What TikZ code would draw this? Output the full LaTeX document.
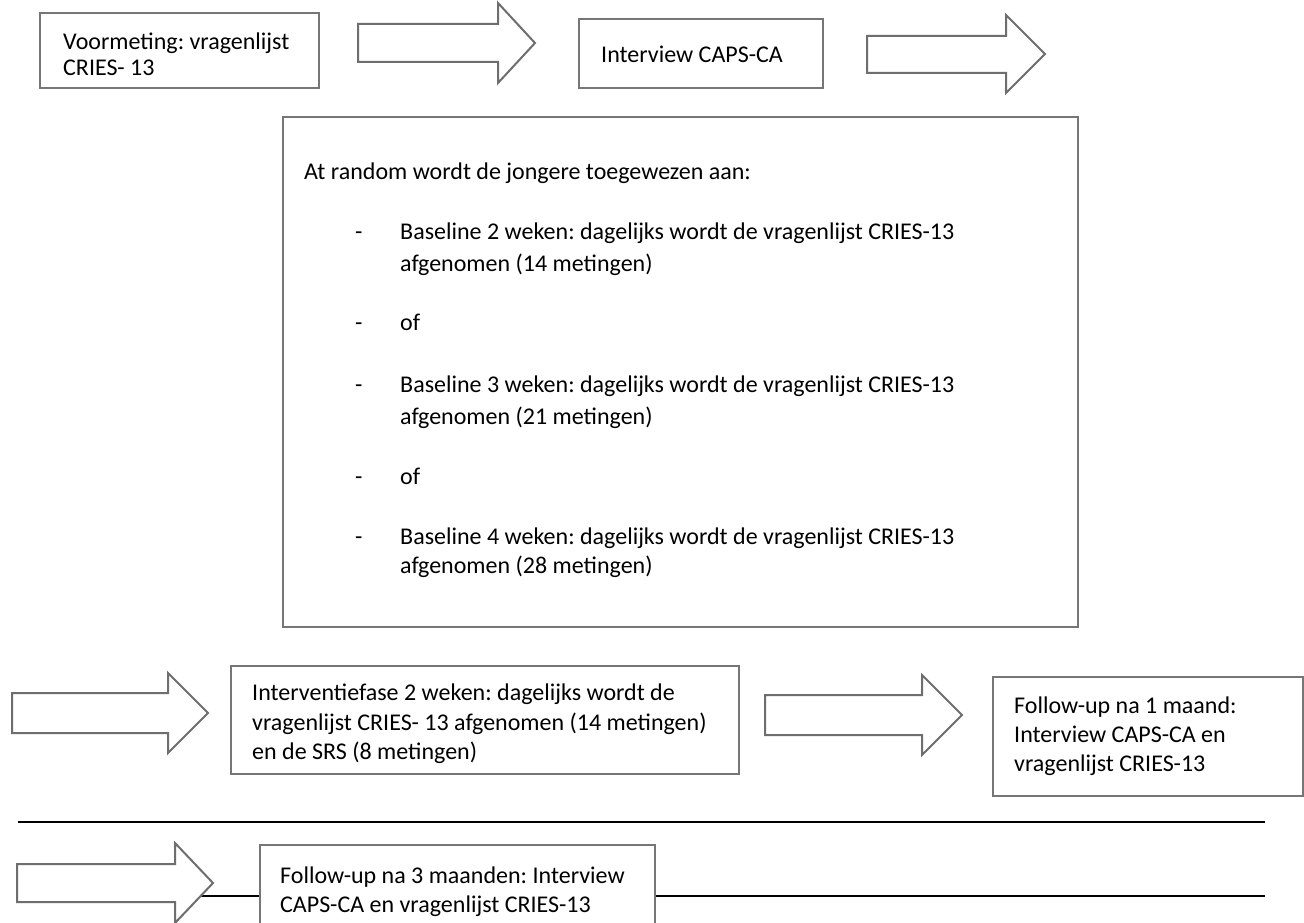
\documentclass[tikz,border=0pt]{standalone}
\usepackage{fontspec}
\setmainfont{Carlito}
\frenchspacing
\definecolor{boxgray}{RGB}{118,118,118}
\definecolor{arrowgray}{RGB}{110,110,110}
\begin{document}
\begin{tikzpicture}[x=1pt,y=-1pt,
  box/.style={draw=boxgray,line width=2.2pt,fill=white,inner sep=0pt,outer sep=0pt},
  blockarrow/.style={draw=arrowgray,line width=2pt,fill=white,line join=miter},
  txt/.style={anchor=base west,inner sep=0pt,font=\fontsize{24}{29}\selectfont,text=black},
  rule/.style={draw=black,line width=2pt}]
\useasboundingbox (0,0) rectangle (1304,923);
\fill[white] (0,0) rectangle (1304,923);

% horizontal rules
\coordinate (r1a) at (18,822); \coordinate (r1b) at (1265,822);
\coordinate (r2a) at (18,896); \coordinate (r2b) at (1265,896);
\draw[rule] (r1a) -- (r1b);
\draw[rule] (r2a) -- (r2b);

% top row
\node[box,minimum width=279pt,minimum height=75pt,anchor=north west] (voor) at (40,13) {};
\node[txt] (voort1) at (63,49.5) {Voormeting: vragenlijst};
\node[txt] (voort2) at (63,76) {CRIES- 13};

\draw[blockarrow] (358,24) -- (498,24) -- (498,3) -- (535,43) -- (498,83) -- (498,62) -- (358,62) -- cycle;

\node[box,minimum width=244pt,minimum height=69pt,anchor=north west] (caps) at (579,19) {};
\node[txt] (capst) at (601,62.5) {Interview CAPS-CA};

\draw[blockarrow] (867,36) -- (1006,36) -- (1006,15) -- (1045,54) -- (1006,93) -- (1006,73) -- (867,73) -- cycle;

% big box
\node[box,minimum width=795pt,minimum height=510pt,anchor=north west] (rand) at (283,117) {};
\node[txt] (randt) at (304,179.5) {At random wordt de jongere toegewezen aan:};
\node[txt] (d1) at (355,239.5) {-};
\node[txt] (b2a) at (400,239.5) {Baseline 2 weken: dagelijks wordt de vragenlijst CRIES-13};
\node[txt] (b2b) at (400,271.5) {afgenomen (14 metingen)};
\node[txt] (d2) at (355,330.5) {-};
\node[txt] (of1) at (400,330.5) {of};
\node[txt] (d3) at (355,392.5) {-};
\node[txt] (b3a) at (400,392.5) {Baseline 3 weken: dagelijks wordt de vragenlijst CRIES-13};
\node[txt] (b3b) at (400,424.5) {afgenomen (21 metingen)};
\node[txt] (d4) at (355,484.5) {-};
\node[txt] (of2) at (400,484.5) {of};
\node[txt] (d5) at (355,544.5) {-};
\node[txt] (b4a) at (400,544.5) {Baseline 4 weken: dagelijks wordt de vragenlijst CRIES-13};
\node[txt] (b4b) at (400,573.5) {afgenomen (28 metingen)};

% middle row
\draw[blockarrow] (12,693) -- (168,693) -- (168,673) -- (208,713) -- (168,753) -- (168,733) -- (12,733) -- cycle;

\node[box,minimum width=508pt,minimum height=108pt,anchor=north west] (interv) at (231,666) {};
\node[txt] (intt1) at (252,700.5) {Interventiefase 2 weken: dagelijks wordt de};
\node[txt] (intt2) at (252,730) {vragenlijst CRIES- 13 afgenomen (14 metingen)};
\node[txt] (intt3) at (252,759.5) {en de SRS (8 metingen)};

\draw[blockarrow] (765,695) -- (922,695) -- (922,675) -- (962,715) -- (922,755) -- (922,735) -- (765,735) -- cycle;

\node[box,minimum width=310pt,minimum height=119pt,anchor=north west] (fu1) at (993,677) {};
\node[txt] (fu1t1) at (1014,713.5) {Follow-up na 1 maand:};
\node[txt] (fu1t2) at (1014,742.5) {Interview CAPS-CA en};
\node[txt] (fu1t3) at (1014,771.5) {vragenlijst CRIES-13};

% bottom row
\draw[blockarrow] (17,864) -- (175,864) -- (175,843) -- (213,883) -- (175,923) -- (175,902) -- (17,902) -- cycle;

\node[box,minimum width=395pt,minimum height=100pt,anchor=north west] (fu3) at (260,845) {};
\node[txt] (fu3t1) at (280,883.5) {Follow-up na 3 maanden: Interview};
\node[txt] (fu3t2) at (280,912.5) {CAPS-CA en vragenlijst CRIES-13};
\end{tikzpicture}
\end{document}
